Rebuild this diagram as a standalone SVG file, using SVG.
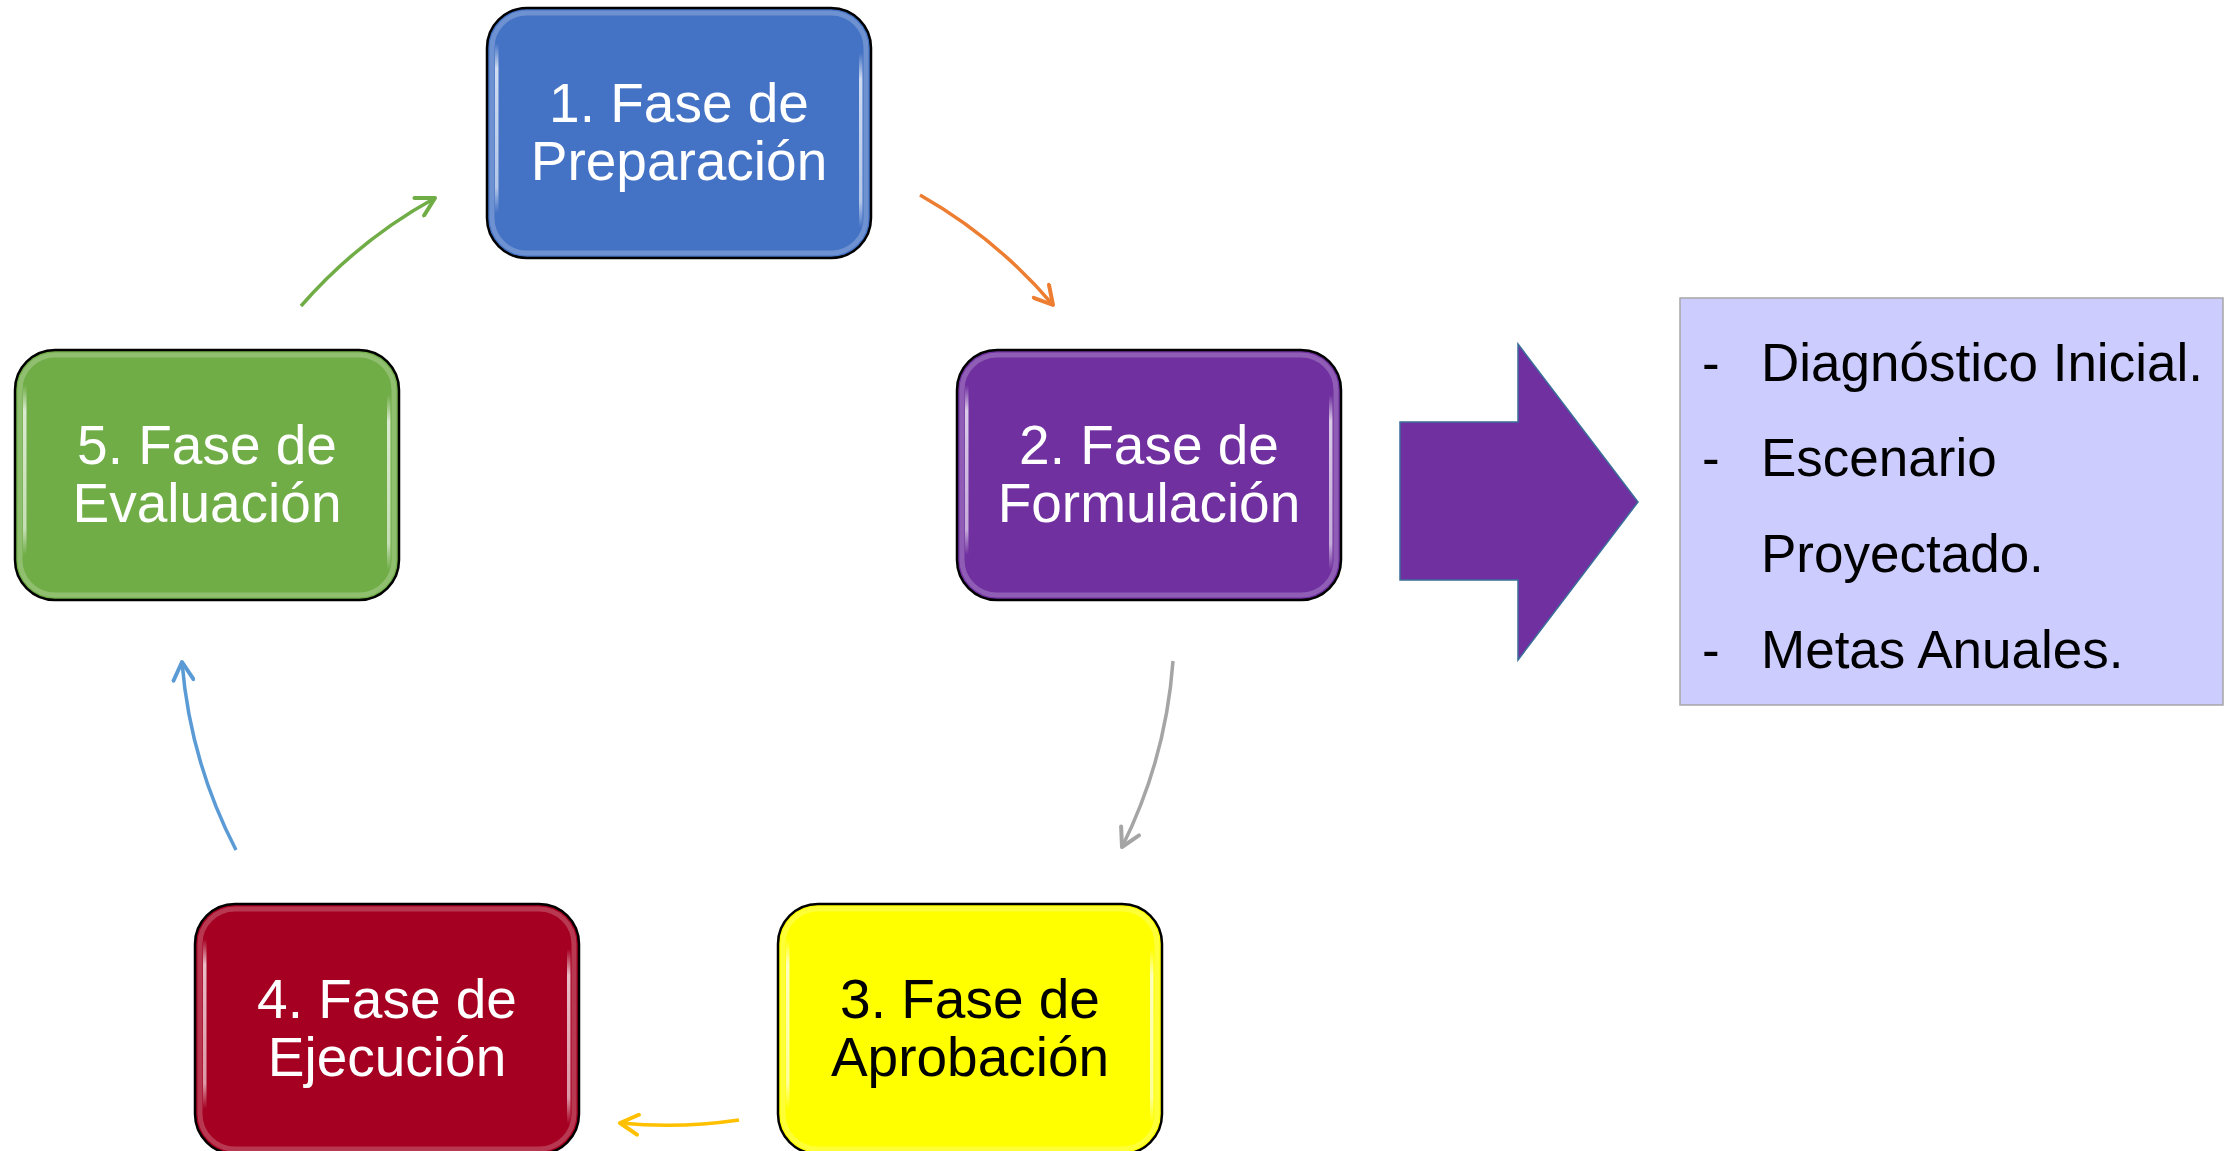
<svg xmlns="http://www.w3.org/2000/svg" width="2229" height="1151" viewBox="0 0 2229 1151">
<defs>
<linearGradient id="hl" x1="0" y1="0" x2="0" y2="1">
<stop offset="0" stop-color="#fff" stop-opacity="0"/>
<stop offset="0.15" stop-color="#fff" stop-opacity="0.75"/>
<stop offset="0.85" stop-color="#fff" stop-opacity="0.6"/>
<stop offset="1" stop-color="#fff" stop-opacity="0"/>
</linearGradient>
<marker id="mOr" viewBox="-22 -12 26 24" refX="0" refY="0" markerWidth="26" markerHeight="24" markerUnits="userSpaceOnUse" orient="auto"><path d="M-18,-10 L0,0 L-18,10" fill="none" stroke="#ED7D31" stroke-width="4" stroke-linecap="round" stroke-linejoin="round"/></marker>
<marker id="mGr" viewBox="-22 -12 26 24" refX="0" refY="0" markerWidth="26" markerHeight="24" markerUnits="userSpaceOnUse" orient="auto"><path d="M-18,-10 L0,0 L-18,10" fill="none" stroke="#A5A5A5" stroke-width="4" stroke-linecap="round" stroke-linejoin="round"/></marker>
<marker id="mYe" viewBox="-22 -12 26 24" refX="0" refY="0" markerWidth="26" markerHeight="24" markerUnits="userSpaceOnUse" orient="auto"><path d="M-18,-10 L0,0 L-18,10" fill="none" stroke="#FFC000" stroke-width="4" stroke-linecap="round" stroke-linejoin="round"/></marker>
<marker id="mBl" viewBox="-22 -12 26 24" refX="0" refY="0" markerWidth="26" markerHeight="24" markerUnits="userSpaceOnUse" orient="auto"><path d="M-18,-10 L0,0 L-18,10" fill="none" stroke="#5B9BD5" stroke-width="4" stroke-linecap="round" stroke-linejoin="round"/></marker>
<marker id="mGn" viewBox="-22 -12 26 24" refX="0" refY="0" markerWidth="26" markerHeight="24" markerUnits="userSpaceOnUse" orient="auto"><path d="M-18,-10 L0,0 L-18,10" fill="none" stroke="#70AD47" stroke-width="4" stroke-linecap="round" stroke-linejoin="round"/></marker>
<style>
.box{stroke:#000;stroke-width:2.5}
.edge{fill:none;stroke:#fff;stroke-opacity:0.22;stroke-width:5}
.hl{fill:url(#hl)}
.lbl{font-family:"Liberation Sans",Arial,sans-serif;font-size:55px;text-anchor:middle}
.w{fill:#fff}
.k{fill:#000}
.conn{fill:none;stroke-width:3.5}
.list{font-family:"Liberation Sans",Arial,sans-serif;font-size:53px;fill:#000}
</style>
</defs>
<rect width="2229" height="1151" fill="#fff"/>

<g id="connectors">
<path class="conn" stroke="#ED7D31" marker-end="url(#mOr)" d="M920,195 A495,495 0 0 1 1053,305"/>
<path class="conn" stroke="#A5A5A5" marker-end="url(#mGr)" d="M1173,661 A495,495 0 0 1 1122,847"/>
<path class="conn" stroke="#FFC000" marker-end="url(#mYe)" d="M739,1120 A495,495 0 0 1 620,1123"/>
<path class="conn" stroke="#5B9BD5" marker-end="url(#mBl)" d="M236,850 A495,495 0 0 1 182,662"/>
<path class="conn" stroke="#70AD47" marker-end="url(#mGn)" d="M301,306 A495,495 0 0 1 435,198"/>
</g>

<g id="node1" transform="translate(487,8)">
<rect class="box" x="0" y="0" width="384" height="250" rx="40" fill="#4472C4"/>
<rect class="edge" x="5" y="5" width="374" height="240" rx="35"/>
<rect class="hl" x="8" y="35" width="3.5" height="170"/>
<rect class="hl" x="372" y="45" width="3.5" height="175"/>
<text class="lbl w" x="192" y="114">1. Fase de</text>
<text class="lbl w" x="192" y="172">Preparación</text>
</g>

<g id="node2" transform="translate(957,350)">
<rect class="box" x="0" y="0" width="384" height="250" rx="40" fill="#7030A0"/>
<rect class="edge" x="5" y="5" width="374" height="240" rx="35"/>
<rect class="hl" x="8" y="35" width="3.5" height="170"/>
<rect class="hl" x="372" y="45" width="3.5" height="175"/>
<text class="lbl w" x="192" y="114">2. Fase de</text>
<text class="lbl w" x="192" y="172">Formulación</text>
</g>

<g id="node3" transform="translate(778,904)">
<rect class="box" x="0" y="0" width="384" height="250" rx="40" fill="#FFFF00"/>
<rect class="edge" x="5" y="5" width="374" height="240" rx="35"/>
<rect class="hl" x="8" y="35" width="3.5" height="170"/>
<rect class="hl" x="372" y="45" width="3.5" height="175"/>
<text class="lbl k" x="192" y="114">3. Fase de</text>
<text class="lbl k" x="192" y="172">Aprobación</text>
</g>

<g id="node4" transform="translate(195,904)">
<rect class="box" x="0" y="0" width="384" height="250" rx="40" fill="#A50021"/>
<rect class="edge" x="5" y="5" width="374" height="240" rx="35"/>
<rect class="hl" x="8" y="35" width="3.5" height="170"/>
<rect class="hl" x="372" y="45" width="3.5" height="175"/>
<text class="lbl w" x="192" y="114">4. Fase de</text>
<text class="lbl w" x="192" y="172">Ejecución</text>
</g>

<g id="node5" transform="translate(15,350)">
<rect class="box" x="0" y="0" width="384" height="250" rx="40" fill="#70AD47"/>
<rect class="edge" x="5" y="5" width="374" height="240" rx="35"/>
<rect class="hl" x="8" y="35" width="3.5" height="170"/>
<rect class="hl" x="372" y="45" width="3.5" height="175"/>
<text class="lbl w" x="192" y="114">5. Fase de</text>
<text class="lbl w" x="192" y="172">Evaluación</text>
</g>

<g id="bigArrow">
<polygon points="1400,422 1518,422 1518,344 1638,502 1518,660 1518,580 1400,580" fill="#7030A0" stroke="#3A6E9A" stroke-width="1.5"/>
</g>

<g id="outputs">
<rect x="1680" y="298" width="543" height="407" fill="#CCCCFF" stroke="#A6A6A6" stroke-width="1.5"/>
<text class="list" x="1702" y="381">-</text>
<text class="list" x="1761" y="381">Diagnóstico Inicial.</text>
<text class="list" x="1702" y="476">-</text>
<text class="list" x="1761" y="476">Escenario</text>
<text class="list" x="1761" y="572">Proyectado.</text>
<text class="list" x="1702" y="668">-</text>
<text class="list" x="1761" y="668">Metas Anuales.</text>
</g>
</svg>
